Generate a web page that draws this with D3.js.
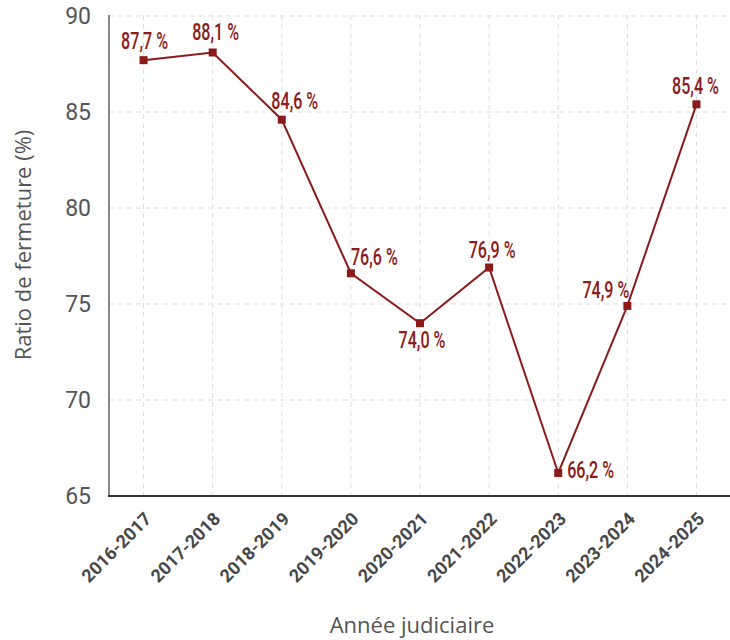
<!DOCTYPE html>
<html><head><meta charset="utf-8">
<script src="https://cdn.jsdelivr.net/npm/d3@7"></script>
<style>
body{margin:0;background:#fff;}
svg{display:block;}
</style></head>
<body>
<svg id="c" width="730" height="640"></svg>
<script>
const categories = ["2016-2017","2017-2018","2018-2019","2019-2020","2020-2021","2021-2022","2022-2023","2023-2024","2024-2025"];
const values = [87.7, 88.1, 84.6, 76.6, 74.0, 76.9, 66.2, 74.9, 85.4];
const yTicks = [65, 70, 75, 80, 85, 90];
const yTitle = "Ratio de fermeture (%)";
const xTitle = "Année judiciaire";
// label placement: [anchor, dx, dy]
const labelPlacement = [
  ["middle", 1, -11], ["middle", 3, -12], ["middle", 13, -11], ["start", 0, -8],
  ["middle", 2, 25], ["middle", 3, -10], ["start", 9, 5], ["end", 2, -8], ["middle", -1, -10]
];

const color = "#8b1a1a";
const svg = d3.select("#c");
const x = d3.scaleBand().domain(categories).range([109, 731]);
const y = d3.scaleLinear().domain([65, 90]).range([496, 16]);
const cx = d => x(d) + x.bandwidth() / 2;

// grid
svg.append("g").selectAll("line").data(yTicks.slice(1)).join("line")
  .attr("x1", 109).attr("x2", 730).attr("y1", d => y(d)).attr("y2", d => y(d))
  .attr("stroke", "#ddd").attr("stroke-dasharray", "5,4").attr("stroke-width", 1);
svg.append("g").selectAll("line").data(categories).join("line")
  .attr("x1", d => cx(d)).attr("x2", d => cx(d)).attr("y1", 15).attr("y2", 496)
  .attr("stroke", "#ddd").attr("stroke-dasharray", "5,4").attr("stroke-width", 1);

// y axis
const ya = svg.append("g").attr("transform", "translate(109,0)")
  .call(d3.axisLeft(y).tickValues(yTicks).tickSize(0).tickPadding(18));
ya.select(".domain").attr("stroke", "#888").attr("stroke-width", 2).attr("d", "M0,15V497");
ya.selectAll("text").attr("font-family", "Roboto, sans-serif").attr("font-size", 23).attr("fill", "#555");

// x axis
const xa = svg.append("g").attr("transform", "translate(0,496)")
  .call(d3.axisBottom(x).tickSize(0).tickPadding(0));
xa.select(".domain").attr("stroke", "#333").attr("stroke-width", 2).attr("d", "M108,0H730");
xa.selectAll("text")
  .attr("font-family", "Roboto, sans-serif")
  .attr("font-weight", "bold").attr("font-size", 18).attr("fill", "#474747")
  .attr("text-anchor", "end").attr("dy", null)
  .attr("transform", "translate(9,24) rotate(-45)");

// titles
svg.append("text").attr("transform", "translate(31,245) rotate(-90)")
  .attr("text-anchor", "middle").attr("font-family", "'Open Sans', sans-serif")
  .attr("font-size", 22).attr("fill", "#555").text(yTitle);
svg.append("text").attr("x", 412).attr("y", 633)
  .attr("text-anchor", "middle").attr("font-family", "'Open Sans', sans-serif")
  .attr("font-size", 22).attr("fill", "#555").text(xTitle);

// line
const pts = categories.map((c, i) => [cx(c), y(values[i])]);
svg.append("path").attr("d", d3.line()(pts)).attr("fill", "none")
  .attr("stroke", color).attr("stroke-width", 2);
svg.append("g").selectAll("rect").data(pts).join("rect")
  .attr("x", d => d[0] - 4).attr("y", d => d[1] - 4).attr("width", 8).attr("height", 8)
  .attr("fill", color);

// labels
svg.append("g").selectAll("text").data(values).join("text")
  .attr("transform", (d, i) => `translate(${pts[i][0] + labelPlacement[i][1]},${pts[i][1] + labelPlacement[i][2]}) scale(0.7,1)`)
  .attr("text-anchor", (d, i) => labelPlacement[i][0])
  .attr("font-family", "Roboto, sans-serif").attr("font-weight", 500)
  .attr("font-size", 23).attr("fill", color)
  .text(d => d.toFixed(1).replace(".", ",") + " %");
</script>
</body></html>
